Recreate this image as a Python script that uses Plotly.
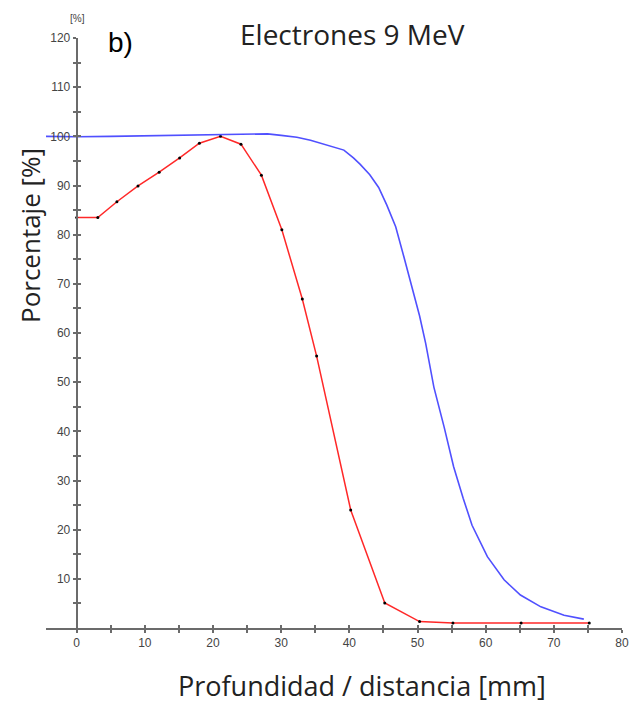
import plotly.graph_objects as go

# Red series (measured points)
red_x = [0, 3.1, 5.9, 9.0, 12.1, 15.1, 18.0, 21.1, 24.1, 27.1, 30.1, 33.1, 35.2, 40.2, 45.2, 50.3, 55.2, 65.2, 75.2]
red_y = [83.5, 83.5, 86.7, 89.9, 92.7, 95.6, 98.6, 100.0, 98.4, 92.1, 81.0, 66.9, 55.3, 24.0, 5.1, 1.3, 1.0, 1.0, 1.0]

# Blue series (continuous curve)
blue_x = [-4.5, 0, 5, 10, 15, 20, 23, 26, 28, 30, 32.3, 34.3, 35.7, 37.7, 39.2, 40.6, 41.6, 43.0, 44.3,
          45.5, 46.8, 48.0, 49.2, 50.3, 51.2, 52.4, 53.9, 55.3, 56.7, 58.0, 60.25, 62.7, 65.1, 68.1, 71.5, 74.4]
blue_y = [100.0, 99.9, 100.0, 100.1, 100.2, 100.3, 100.4, 100.5, 100.5, 100.2, 99.8, 99.2, 98.6, 97.8, 97.2, 95.6,
          94.3, 92.2, 89.6, 86.0, 81.6, 75.5, 69.4, 63.5, 57.9, 49.0, 40.9, 32.8, 26.4, 20.9, 14.5, 9.8, 6.7, 4.3, 2.6, 1.8]

x_ticks = list(range(0, 81, 5))
x_labels = [str(v) if v % 10 == 0 else "" for v in x_ticks]
y_ticks = list(range(5, 121, 5))
y_labels = [str(v) if v % 10 == 0 else "" for v in y_ticks]

X_RANGE = [-4.5, 80]
Y_RANGE = [0, 120]
YPOS = (0 - X_RANGE[0]) / (X_RANGE[1] - X_RANGE[0])

# page has an 8px body margin; figure coordinates are offset accordingly
OFF = 8
W, H = 632, 696
ML, MR, MT, MB = 38, 18, 30, 76

AX = "#6b6b6b"
TICKFONT = dict(family="Liberation Sans, Arial", size=12, color="#444")
TXT = "Open Sans, Noto Sans"

fig = go.Figure()
fig.add_trace(go.Scatter(x=blue_x, y=blue_y, mode="lines", xaxis="x2", yaxis="y2",
                         line=dict(color="rgb(80,80,255)", width=1.6), hoverinfo="skip"))
fig.add_trace(go.Scatter(x=red_x, y=red_y, mode="lines+markers",
                         line=dict(color="rgb(255,40,40)", width=1.5),
                         marker=dict(color="black", size=3), hoverinfo="skip"))


def ann(text, sx, sy, size, family=TXT, color="#222", xanchor="center", angle=0):
    # sx, sy: screen pixel coordinates (from top-left of the page)
    fx = sx - OFF
    fy = sy - OFF
    pw = W - ML - MR
    ph = H - MT - MB
    return dict(text=text, x=(fx - ML) / pw, y=((H - fy) - MB) / ph, xref="paper", yref="paper",
                showarrow=False, xanchor=xanchor, yanchor="middle", textangle=angle,
                font=dict(family=family, size=size, color=color))


fig.update_layout(
    width=W, height=H,
    margin=dict(l=ML, r=MR, t=MT, b=MB),
    paper_bgcolor="white", plot_bgcolor="white",
    showlegend=False,
    xaxis=dict(range=X_RANGE, showgrid=False, zeroline=False, showline=True, linecolor=AX, linewidth=2,
               tickmode="array", tickvals=x_ticks, ticktext=x_labels, ticks="outside", ticklen=3,
               tickwidth=1.5, tickcolor=AX, tickfont=TICKFONT, anchor="y"),
    xaxis2=dict(range=X_RANGE, overlaying="x", anchor="y", side="bottom", showgrid=False, zeroline=False,
                showline=False, tickmode="array", tickvals=x_ticks, showticklabels=False,
                ticks="inside", ticklen=3, tickwidth=1.5, tickcolor=AX),
    yaxis=dict(range=Y_RANGE, showgrid=False, zeroline=False, showline=True, linecolor=AX, linewidth=2,
               tickmode="array", tickvals=y_ticks, ticktext=y_labels, ticks="outside", ticklen=3,
               tickwidth=1.5, tickcolor=AX, tickfont=TICKFONT, anchor="free", position=YPOS),
    yaxis2=dict(range=Y_RANGE, overlaying="y", anchor="free", position=YPOS, side="left", showgrid=False,
                zeroline=False, showline=False, tickmode="array", tickvals=y_ticks, showticklabels=False,
                ticks="inside", ticklen=3, tickwidth=1.5, tickcolor=AX),
    annotations=[
        ann("b)", 106, 42, 28, family="Liberation Sans, Arial", color="black", xanchor="left"),
        ann("Electrones 9 MeV", 352, 34, 28),
        ann("Porcentaje [%]", 30, 236, 26, angle=-90),
        ann("Profundidad / distancia [mm]", 362, 685, 27),
        ann("[%]", 77, 18, 10, family="Liberation Sans, Arial", color="#444"),
    ],
)

fig.write_html("out.html")
